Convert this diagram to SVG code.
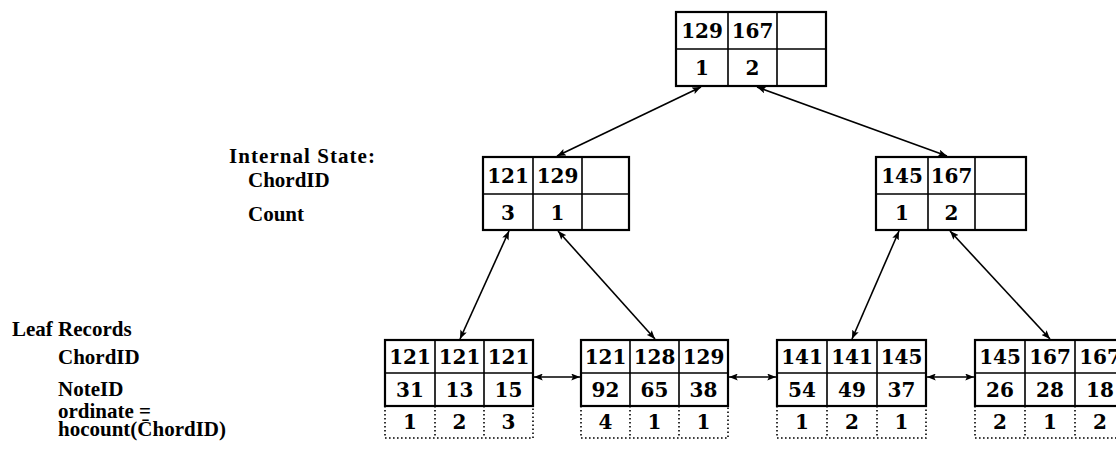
<svg xmlns="http://www.w3.org/2000/svg" width="1116" height="458" viewBox="0 0 1116 458">
  <style>
    .box { fill: #fff; stroke: #000; stroke-width: 2.2; }
    .div { stroke: #000; stroke-width: 1.6; fill: none; }
    .dot { stroke: #000; stroke-width: 1.6; fill: none; stroke-dasharray: 1.6 2.4; }
    .num { font-family: "DejaVu Serif", "Liberation Serif", serif; font-weight: bold; font-size: 20px; text-anchor: middle; fill: #000; }
    .lbl { font-family: "Liberation Serif", "DejaVu Serif", serif; font-weight: bold; font-size: 21px; fill: #000; }
    .link { stroke: #000; stroke-width: 1.6; fill: none; marker-start: url(#ah); marker-end: url(#ah); }
  </style>
  <defs>
    <marker id="ah" viewBox="0 0 10 8" refX="10" refY="4" markerWidth="9" markerHeight="7" markerUnits="userSpaceOnUse" orient="auto-start-reverse">
      <path d="M0,0 L10,4 L0,8 L2,4 Z" fill="#000"/>
    </marker>
  </defs>

  <rect width="1116" height="458" fill="#fff"/>

  <!-- row labels -->
  <g id="labels-internal">
    <text class="lbl" x="229" y="163" textLength="146" lengthAdjust="spacing">Internal State:</text>
    <text class="lbl" x="248" y="187">ChordID</text>
    <text class="lbl" x="248" y="221">Count</text>
  </g>
  <g id="labels-leaf">
    <text class="lbl" x="12" y="336">Leaf Records</text>
    <text class="lbl" x="58" y="364">ChordID</text>
    <text class="lbl" x="58" y="396">NoteID</text>
    <text class="lbl" x="58" y="418">ordinate =</text>
    <text class="lbl" x="58" y="436">hocount(C̄hordID)</text>
  </g>

  <!-- root -->
  <g id="node-root">
    <rect class="box" x="676" y="12" width="150" height="74"/>
    <path class="div" d="M676,49 H826 M728,12 V86 M777,12 V86"/>
    <text class="num" x="702" y="38">129</text>
    <text class="num" x="752.5" y="38">167</text>
    <text class="num" x="702" y="75">1</text>
    <text class="num" x="752.5" y="75">2</text>
  </g>

  <!-- internal nodes -->
  <g id="node-int-left">
    <rect class="box" x="483" y="157" width="146" height="73"/>
    <path class="div" d="M483,194 H629 M533,157 V230 M582,157 V230"/>
    <text class="num" x="508" y="183">121</text>
    <text class="num" x="557.5" y="183">129</text>
    <text class="num" x="508" y="220">3</text>
    <text class="num" x="557.5" y="220">1</text>
  </g>
  <g id="node-int-right">
    <rect class="box" x="876" y="157" width="150" height="73"/>
    <path class="div" d="M876,194 H1026 M928,157 V230 M975,157 V230"/>
    <text class="num" x="902" y="183">145</text>
    <text class="num" x="951.5" y="183">167</text>
    <text class="num" x="902" y="220">1</text>
    <text class="num" x="951.5" y="220">2</text>
  </g>

  <!-- leaf records -->
  <g id="leaf-1">
    <rect class="box" x="385" y="340" width="148" height="66"/>
    <path class="div" d="M385,373 H533 M435,340 V406 M484,340 V406"/>
    <path class="dot" d="M385,406 V438 H533 V406 M435,406 V438 M484,406 V438"/>
    <text class="num" x="410" y="364">121</text>
    <text class="num" x="459.5" y="364">121</text>
    <text class="num" x="508.5" y="364">121</text>
    <text class="num" x="410" y="397">31</text>
    <text class="num" x="459.5" y="397">13</text>
    <text class="num" x="508.5" y="397">15</text>
    <text class="num" x="410" y="429">1</text>
    <text class="num" x="459.5" y="429">2</text>
    <text class="num" x="508.5" y="429">3</text>
  </g>
  <g id="leaf-2">
    <rect class="box" x="581" y="340" width="147" height="66"/>
    <path class="div" d="M581,373 H728 M630,340 V406 M679,340 V406"/>
    <path class="dot" d="M581,406 V438 H728 V406 M630,406 V438 M679,406 V438"/>
    <text class="num" x="605.5" y="364">121</text>
    <text class="num" x="654.5" y="364">128</text>
    <text class="num" x="703.5" y="364">129</text>
    <text class="num" x="605.5" y="397">92</text>
    <text class="num" x="654.5" y="397">65</text>
    <text class="num" x="703.5" y="397">38</text>
    <text class="num" x="605.5" y="429">4</text>
    <text class="num" x="654.5" y="429">1</text>
    <text class="num" x="703.5" y="429">1</text>
  </g>
  <g id="leaf-3">
    <rect class="box" x="777" y="340" width="149" height="66"/>
    <path class="div" d="M777,373 H926 M827,340 V406 M877,340 V406"/>
    <path class="dot" d="M777,406 V438 H926 V406 M827,406 V438 M877,406 V438"/>
    <text class="num" x="802" y="364">141</text>
    <text class="num" x="852" y="364">141</text>
    <text class="num" x="901.5" y="364">145</text>
    <text class="num" x="802" y="397">54</text>
    <text class="num" x="852" y="397">49</text>
    <text class="num" x="901.5" y="397">37</text>
    <text class="num" x="802" y="429">1</text>
    <text class="num" x="852" y="429">2</text>
    <text class="num" x="901.5" y="429">1</text>
  </g>
  <g id="leaf-4">
    <rect class="box" x="975" y="340" width="150" height="66"/>
    <path class="div" d="M975,373 H1125 M1025,340 V406 M1075,340 V406"/>
    <path class="dot" d="M975,406 V438 H1125 M1025,406 V438 M1075,406 V438"/>
    <text class="num" x="1000" y="364">145</text>
    <text class="num" x="1050" y="364">167</text>
    <text class="num" x="1100" y="364">167</text>
    <text class="num" x="1000" y="397">26</text>
    <text class="num" x="1050" y="397">28</text>
    <text class="num" x="1100" y="397">18</text>
    <text class="num" x="1000" y="429">2</text>
    <text class="num" x="1050" y="429">1</text>
    <text class="num" x="1100" y="429">2</text>
  </g>

  <!-- parent/child and sibling links -->
  <g id="connectors">
    <line class="link" x1="701" y1="87" x2="557" y2="156"/>
    <line class="link" x1="757" y1="87" x2="947" y2="156"/>
    <line class="link" x1="509" y1="231" x2="460" y2="339"/>
    <line class="link" x1="558" y1="231" x2="655" y2="339"/>
    <line class="link" x1="899" y1="231" x2="852" y2="339"/>
    <line class="link" x1="950" y1="231" x2="1050" y2="339"/>
    <line class="link" x1="534" y1="377" x2="580" y2="377"/>
    <line class="link" x1="729" y1="377" x2="776" y2="377"/>
    <line class="link" x1="927" y1="377" x2="974" y2="377"/>
  </g>
</svg>
